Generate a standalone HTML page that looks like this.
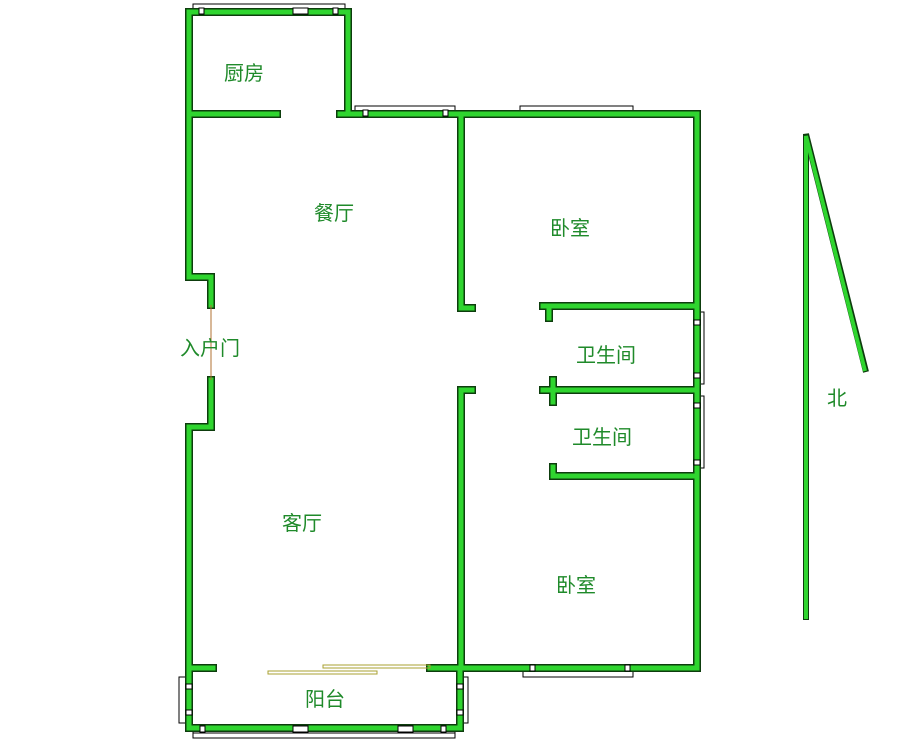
<!DOCTYPE html>
<html><head><meta charset="utf-8"><style>
html,body{margin:0;padding:0;background:#fff;width:900px;height:741px;overflow:hidden}
svg{display:block}
text{font-family:"Liberation Sans","Noto Sans CJK SC",sans-serif;font-size:20px;fill:#1f8a2a}
</style></head><body>
<svg width="900" height="741" viewBox="0 0 900 741" xmlns="http://www.w3.org/2000/svg">
<g fill="#fff" stroke="#000" stroke-width="1">
<!-- windows -->
<rect x="193" y="4" width="152" height="8"/>
<line x1="200" y1="9" x2="343" y2="9"/>
<rect x="355" y="106" width="100" height="8"/>
<line x1="365" y1="111" x2="450" y2="111"/>
<rect x="520" y="106" width="113" height="8"/>
<line x1="528" y1="111" x2="628" y2="111"/>
<rect x="697" y="312" width="7" height="72"/>
<rect x="697" y="396" width="7" height="72"/>
<rect x="523" y="668" width="110" height="9"/>
<line x1="528" y1="671" x2="628" y2="671"/>
<rect x="179" y="677" width="10" height="46"/>
<rect x="460" y="677" width="8" height="46"/>
<rect x="193" y="730" width="262" height="8"/>
<line x1="193" y1="733" x2="455" y2="733"/>
</g>
<g fill="none" stroke="#0d3d0d" stroke-width="8" stroke-linecap="square" id="o">
<path d="M189 12V277H211V305M211 380V427H189V728H460V668H697V114H461V308H472M461 668V390H472M189 114H277M340 114H348V12H189M348 114H697M543 306H697M549 306V318M543 390H697M553 380V402M553 476H697M553 476V467M189 668H213M430 668H461"/>
</g>
<g fill="none" stroke="#2fd52f" stroke-width="5" stroke-linecap="square">
<path d="M189 12V277H211V305M211 380V427H189V728H460V668H697V114H461V308H472M461 668V390H472M189 114H277M340 114H348V12H189M348 114H697M543 306H697M549 306V318M543 390H697M553 380V402M553 476H697M553 476V467M189 668H213M430 668H461"/>
</g>
<!-- window markers over walls -->
<g fill="#fff" stroke="#000" stroke-width="1">
<rect x="199" y="8" width="5" height="6"/><rect x="293" y="8" width="15" height="6"/><rect x="333" y="8" width="5" height="6"/>
<rect x="363" y="110" width="5" height="6"/><rect x="443" y="110" width="5" height="6"/>
<rect x="694" y="320" width="6" height="5"/><rect x="694" y="373" width="6" height="5"/>
<rect x="694" y="403" width="6" height="5"/><rect x="694" y="460" width="6" height="5"/>
<rect x="530" y="665" width="5" height="6"/><rect x="625" y="665" width="5" height="6"/>
<rect x="186" y="684" width="6" height="5"/><rect x="186" y="710" width="6" height="5"/>
<rect x="457" y="684" width="6" height="5"/><rect x="457" y="710" width="6" height="5"/>
<rect x="200" y="726" width="5" height="6"/><rect x="293" y="726" width="15" height="6"/><rect x="398" y="726" width="15" height="6"/><rect x="441" y="726" width="5" height="6"/>
</g>
<!-- sliding doors -->
<g fill="none" stroke="#a8a030" stroke-width="1">
<rect x="323" y="665" width="107" height="3"/>
<rect x="268" y="671" width="109" height="3"/>
</g>
<line x1="211" y1="305" x2="211" y2="380" stroke="#b07030" stroke-width="1"/>
<!-- north arrow -->
<g stroke="#0d3d0d" stroke-width="6" fill="none"><path d="M806 620V134L866 372"/></g>
<g stroke="#2fd52f" stroke-width="4" fill="none"><path d="M806 619V136L865 371"/></g>
<text x="224" y="80">厨房</text>
<text x="314" y="220">餐厅</text>
<text x="550" y="235">卧室</text>
<text x="576" y="362">卫生间</text>
<text x="572" y="444">卫生间</text>
<text x="180" y="355">入户门</text>
<text x="282" y="530">客厅</text>
<text x="556" y="592">卧室</text>
<text x="305" y="706">阳台</text>
<text x="827" y="405">北</text>
</svg>
</body></html>
